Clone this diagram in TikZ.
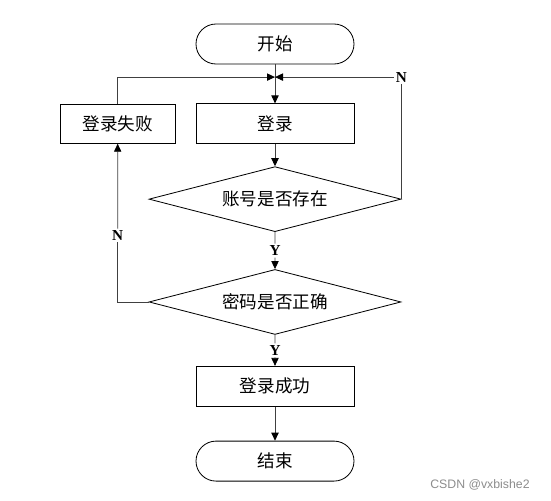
\documentclass[tikz,border=0pt]{standalone}
\usepackage{fontspec}
\setmainfont{Liberation Serif}
\newfontfamily\cjk{Noto Sans CJK SC}
\newfontfamily\wmfont{Liberation Sans}
\usepackage{tikz}
\usetikzlibrary{arrows.meta, positioning, shapes.geometric, calc}

\begin{document}
\begin{tikzpicture}[
    node distance=0.6cm,
    term/.style={draw, line width=0.7pt, rounded corners=0.6cm, minimum width=4.74cm, minimum height=1.2cm, font=\cjk\fontsize{15}{18}\selectfont},
    proc/.style={draw, line width=0.7pt, minimum width=4.74cm, minimum height=1.2cm, font=\cjk\fontsize{15}{18}\selectfont},
    decide/.style={draw, line width=0.7pt, diamond, aspect=3.88, minimum width=7.56cm, minimum height=1.95cm, inner sep=1pt, font=\cjk\fontsize{15}{18}\selectfont},
    lbl/.style={inner sep=1.5pt, font=\bfseries\fontsize{13}{15}\selectfont},
    conn/.style={line width=0.7pt, draw=black!75},
    >={Triangle[length=0.24cm, width=0.22cm, fill=black, color=black]}
]
\useasboundingbox (0,0) rectangle (16.53,-15);
\node[term] (start) at (8.25,-1.32) {开始};
\coordinate[below=0.38cm of start] (merge);
\node[proc, below=1.17cm of start] (login) {登录};
\node[proc, left=0.6cm of login, minimum width=3.45cm, minimum height=1.17cm] (fail) {登录失败};
\node[decide, below=0.66cm of login] (acct) {账号是否存在};
\node[decide, below=1.11cm of acct] (pwd) {密码是否正确};
\node[proc, below=0.93cm of pwd] (success) {登录成功};
\node[term, below=1.02cm of success] (stop) {结束};
% labels on the branches
\node[lbl] (nright) at (acct.east |- merge) {N};
\node[lbl] (yone) at ($(acct.south)!0.5!(pwd.north)$) {Y};
\node[lbl] (ytwo) at ($(pwd.south)!0.5!(success.north)$) {Y};
\node[lbl] (nleft) at ($(fail.south)!0.58!(fail.south |- pwd.west)$) {N};
% connectors
\draw[conn] (start) -- (merge);
\draw[conn, ->] (merge) -- (login);
\draw[conn, ->] (fail.north) |- (merge);
\draw[conn] (acct.east) -- (nright.south);
\draw[conn, ->] (nright.west) -- (merge);
\draw[conn, ->] (login) -- (acct);
\draw[conn] (acct.south) -- (yone.north);
\draw[conn, ->] (yone.south) -- (pwd.north);
\draw[conn] (pwd.west) -| (nleft.south);
\draw[conn, ->] (nleft.north) -- (fail.south);
\draw[conn] (pwd.south) -- (ytwo.north);
\draw[conn, ->] (ytwo.south) -- (success.north);
\draw[conn, ->] (success) -- (stop);
\node[text=black!45, font=\wmfont\fontsize{10.5}{12}\selectfont] (wm) at (14.4,-14.55) {CSDN @vxbishe2};
\end{tikzpicture}
\end{document}
